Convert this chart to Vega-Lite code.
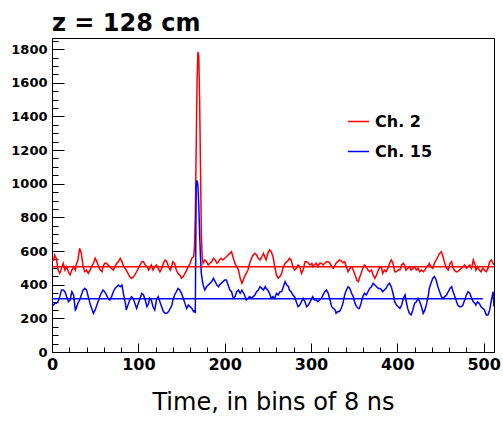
{
"$schema": "https://vega.github.io/schema/vega-lite/v6.json",
"autosize": "none",
"padding": {"left": 52, "top": 38, "right": 9, "bottom": 70},
"width": 442,
"height": 314,
"background": "white",
"title": {"text": "z = 128 cm", "anchor": "start", "frame": "group", "font": "DejaVu Sans", "fontSize": 24, "fontWeight": "bold", "color": "#000", "offset": 2},
"config": {
  "view": {"stroke": "#000", "strokeWidth": 1},
  "axis": {"domainColor": "#000", "tickColor": "#000", "labelColor": "#000", "grid": false, "labelFont": "DejaVu Sans", "labelFontWeight": "bold", "labelFontSize": 13, "domainWidth": 1, "tickWidth": 1}
},
"datasets": {
"base": [{"ch": "Ch. 2", "t0": 0, "t1": 512, "v": 507}, {"ch": "Ch. 15", "t0": 0, "t1": 499, "v": 317}],
"sig": [
{"ch":"Ch. 2","t":0,"v":540},{"ch":"Ch. 2","t":2,"v":547},{"ch":"Ch. 2","t":3,"v":576},{"ch":"Ch. 2","t":5,"v":557},{"ch":"Ch. 2","t":7,"v":487},{"ch":"Ch. 2","t":9,"v":467},{"ch":"Ch. 2","t":11,"v":497},{"ch":"Ch. 2","t":13,"v":527},{"ch":"Ch. 2","t":15,"v":487},{"ch":"Ch. 2","t":17,"v":507},{"ch":"Ch. 2","t":19,"v":477},{"ch":"Ch. 2","t":21,"v":458},{"ch":"Ch. 2","t":23,"v":487},{"ch":"Ch. 2","t":25,"v":507},{"ch":"Ch. 2","t":27,"v":487},{"ch":"Ch. 2","t":28,"v":517},{"ch":"Ch. 2","t":30,"v":547},{"ch":"Ch. 2","t":32,"v":616},{"ch":"Ch. 2","t":34,"v":586},{"ch":"Ch. 2","t":36,"v":507},{"ch":"Ch. 2","t":38,"v":477},{"ch":"Ch. 2","t":40,"v":487},{"ch":"Ch. 2","t":42,"v":467},{"ch":"Ch. 2","t":44,"v":487},{"ch":"Ch. 2","t":46,"v":507},{"ch":"Ch. 2","t":48,"v":527},{"ch":"Ch. 2","t":50,"v":557},{"ch":"Ch. 2","t":52,"v":537},{"ch":"Ch. 2","t":54,"v":507},{"ch":"Ch. 2","t":56,"v":487},{"ch":"Ch. 2","t":58,"v":477},{"ch":"Ch. 2","t":59,"v":507},{"ch":"Ch. 2","t":61,"v":527},{"ch":"Ch. 2","t":63,"v":527},{"ch":"Ch. 2","t":65,"v":517},{"ch":"Ch. 2","t":67,"v":507},{"ch":"Ch. 2","t":69,"v":497},{"ch":"Ch. 2","t":71,"v":487},{"ch":"Ch. 2","t":73,"v":507},{"ch":"Ch. 2","t":75,"v":527},{"ch":"Ch. 2","t":77,"v":537},{"ch":"Ch. 2","t":79,"v":557},{"ch":"Ch. 2","t":81,"v":537},{"ch":"Ch. 2","t":83,"v":507},{"ch":"Ch. 2","t":85,"v":497},{"ch":"Ch. 2","t":86,"v":487},{"ch":"Ch. 2","t":88,"v":467},{"ch":"Ch. 2","t":90,"v":448},{"ch":"Ch. 2","t":92,"v":438},{"ch":"Ch. 2","t":94,"v":444},{"ch":"Ch. 2","t":96,"v":458},{"ch":"Ch. 2","t":98,"v":477},{"ch":"Ch. 2","t":100,"v":497},{"ch":"Ch. 2","t":102,"v":517},{"ch":"Ch. 2","t":104,"v":537},{"ch":"Ch. 2","t":106,"v":537},{"ch":"Ch. 2","t":108,"v":517},{"ch":"Ch. 2","t":110,"v":507},{"ch":"Ch. 2","t":112,"v":487},{"ch":"Ch. 2","t":113,"v":497},{"ch":"Ch. 2","t":115,"v":517},{"ch":"Ch. 2","t":117,"v":487},{"ch":"Ch. 2","t":119,"v":507},{"ch":"Ch. 2","t":121,"v":517},{"ch":"Ch. 2","t":123,"v":497},{"ch":"Ch. 2","t":125,"v":477},{"ch":"Ch. 2","t":127,"v":497},{"ch":"Ch. 2","t":129,"v":527},{"ch":"Ch. 2","t":131,"v":547},{"ch":"Ch. 2","t":133,"v":537},{"ch":"Ch. 2","t":135,"v":507},{"ch":"Ch. 2","t":137,"v":487},{"ch":"Ch. 2","t":139,"v":517},{"ch":"Ch. 2","t":140,"v":537},{"ch":"Ch. 2","t":142,"v":527},{"ch":"Ch. 2","t":144,"v":487},{"ch":"Ch. 2","t":146,"v":467},{"ch":"Ch. 2","t":148,"v":458},{"ch":"Ch. 2","t":150,"v":438},{"ch":"Ch. 2","t":152,"v":448},{"ch":"Ch. 2","t":154,"v":467},{"ch":"Ch. 2","t":156,"v":487},{"ch":"Ch. 2","t":158,"v":507},{"ch":"Ch. 2","t":160,"v":527},{"ch":"Ch. 2","t":162,"v":557},{"ch":"Ch. 2","t":164,"v":566},{"ch":"Ch. 2","t":165,"v":620},{"ch":"Ch. 2","t":166,"v":800},{"ch":"Ch. 2","t":167,"v":1200},{"ch":"Ch. 2","t":168,"v":1600},{"ch":"Ch. 2","t":169,"v":1784},{"ch":"Ch. 2","t":170,"v":1760},{"ch":"Ch. 2","t":171,"v":1500},{"ch":"Ch. 2","t":172,"v":1100},{"ch":"Ch. 2","t":173,"v":700},{"ch":"Ch. 2","t":174,"v":560},{"ch":"Ch. 2","t":175,"v":527},{"ch":"Ch. 2","t":177,"v":547},{"ch":"Ch. 2","t":179,"v":537},{"ch":"Ch. 2","t":181,"v":517},{"ch":"Ch. 2","t":183,"v":527},{"ch":"Ch. 2","t":185,"v":537},{"ch":"Ch. 2","t":187,"v":557},{"ch":"Ch. 2","t":189,"v":547},{"ch":"Ch. 2","t":191,"v":527},{"ch":"Ch. 2","t":193,"v":537},{"ch":"Ch. 2","t":194,"v":547},{"ch":"Ch. 2","t":196,"v":557},{"ch":"Ch. 2","t":198,"v":547},{"ch":"Ch. 2","t":200,"v":557},{"ch":"Ch. 2","t":202,"v":566},{"ch":"Ch. 2","t":204,"v":576},{"ch":"Ch. 2","t":206,"v":586},{"ch":"Ch. 2","t":208,"v":596},{"ch":"Ch. 2","t":210,"v":557},{"ch":"Ch. 2","t":212,"v":527},{"ch":"Ch. 2","t":214,"v":507},{"ch":"Ch. 2","t":216,"v":487},{"ch":"Ch. 2","t":218,"v":438},{"ch":"Ch. 2","t":220,"v":408},{"ch":"Ch. 2","t":221,"v":418},{"ch":"Ch. 2","t":223,"v":448},{"ch":"Ch. 2","t":225,"v":467},{"ch":"Ch. 2","t":227,"v":487},{"ch":"Ch. 2","t":229,"v":527},{"ch":"Ch. 2","t":231,"v":557},{"ch":"Ch. 2","t":233,"v":576},{"ch":"Ch. 2","t":235,"v":586},{"ch":"Ch. 2","t":237,"v":576},{"ch":"Ch. 2","t":239,"v":557},{"ch":"Ch. 2","t":241,"v":547},{"ch":"Ch. 2","t":243,"v":566},{"ch":"Ch. 2","t":245,"v":586},{"ch":"Ch. 2","t":247,"v":557},{"ch":"Ch. 2","t":248,"v":547},{"ch":"Ch. 2","t":250,"v":586},{"ch":"Ch. 2","t":252,"v":606},{"ch":"Ch. 2","t":254,"v":596},{"ch":"Ch. 2","t":256,"v":566},{"ch":"Ch. 2","t":258,"v":507},{"ch":"Ch. 2","t":260,"v":458},{"ch":"Ch. 2","t":262,"v":438},{"ch":"Ch. 2","t":264,"v":448},{"ch":"Ch. 2","t":266,"v":467},{"ch":"Ch. 2","t":268,"v":507},{"ch":"Ch. 2","t":270,"v":527},{"ch":"Ch. 2","t":272,"v":537},{"ch":"Ch. 2","t":274,"v":547},{"ch":"Ch. 2","t":275,"v":557},{"ch":"Ch. 2","t":277,"v":547},{"ch":"Ch. 2","t":279,"v":507},{"ch":"Ch. 2","t":281,"v":487},{"ch":"Ch. 2","t":283,"v":497},{"ch":"Ch. 2","t":285,"v":517},{"ch":"Ch. 2","t":287,"v":507},{"ch":"Ch. 2","t":289,"v":467},{"ch":"Ch. 2","t":291,"v":487},{"ch":"Ch. 2","t":293,"v":537},{"ch":"Ch. 2","t":295,"v":537},{"ch":"Ch. 2","t":297,"v":527},{"ch":"Ch. 2","t":299,"v":517},{"ch":"Ch. 2","t":301,"v":527},{"ch":"Ch. 2","t":302,"v":507},{"ch":"Ch. 2","t":304,"v":517},{"ch":"Ch. 2","t":306,"v":527},{"ch":"Ch. 2","t":308,"v":507},{"ch":"Ch. 2","t":310,"v":527},{"ch":"Ch. 2","t":312,"v":527},{"ch":"Ch. 2","t":314,"v":517},{"ch":"Ch. 2","t":316,"v":527},{"ch":"Ch. 2","t":318,"v":537},{"ch":"Ch. 2","t":320,"v":537},{"ch":"Ch. 2","t":322,"v":527},{"ch":"Ch. 2","t":324,"v":507},{"ch":"Ch. 2","t":326,"v":497},{"ch":"Ch. 2","t":328,"v":517},{"ch":"Ch. 2","t":329,"v":527},{"ch":"Ch. 2","t":331,"v":537},{"ch":"Ch. 2","t":333,"v":547},{"ch":"Ch. 2","t":335,"v":542},{"ch":"Ch. 2","t":337,"v":530},{"ch":"Ch. 2","t":339,"v":537},{"ch":"Ch. 2","t":341,"v":507},{"ch":"Ch. 2","t":343,"v":477},{"ch":"Ch. 2","t":345,"v":497},{"ch":"Ch. 2","t":347,"v":507},{"ch":"Ch. 2","t":349,"v":487},{"ch":"Ch. 2","t":351,"v":458},{"ch":"Ch. 2","t":353,"v":428},{"ch":"Ch. 2","t":355,"v":418},{"ch":"Ch. 2","t":356,"v":438},{"ch":"Ch. 2","t":358,"v":467},{"ch":"Ch. 2","t":360,"v":497},{"ch":"Ch. 2","t":362,"v":517},{"ch":"Ch. 2","t":364,"v":507},{"ch":"Ch. 2","t":366,"v":487},{"ch":"Ch. 2","t":368,"v":477},{"ch":"Ch. 2","t":370,"v":487},{"ch":"Ch. 2","t":372,"v":458},{"ch":"Ch. 2","t":374,"v":438},{"ch":"Ch. 2","t":376,"v":458},{"ch":"Ch. 2","t":378,"v":487},{"ch":"Ch. 2","t":380,"v":507},{"ch":"Ch. 2","t":382,"v":497},{"ch":"Ch. 2","t":383,"v":467},{"ch":"Ch. 2","t":385,"v":487},{"ch":"Ch. 2","t":387,"v":477},{"ch":"Ch. 2","t":389,"v":497},{"ch":"Ch. 2","t":391,"v":527},{"ch":"Ch. 2","t":393,"v":547},{"ch":"Ch. 2","t":395,"v":527},{"ch":"Ch. 2","t":397,"v":477},{"ch":"Ch. 2","t":399,"v":477},{"ch":"Ch. 2","t":401,"v":487},{"ch":"Ch. 2","t":403,"v":487},{"ch":"Ch. 2","t":405,"v":517},{"ch":"Ch. 2","t":407,"v":527},{"ch":"Ch. 2","t":409,"v":507},{"ch":"Ch. 2","t":410,"v":487},{"ch":"Ch. 2","t":412,"v":497},{"ch":"Ch. 2","t":414,"v":507},{"ch":"Ch. 2","t":416,"v":487},{"ch":"Ch. 2","t":418,"v":497},{"ch":"Ch. 2","t":420,"v":507},{"ch":"Ch. 2","t":422,"v":487},{"ch":"Ch. 2","t":424,"v":497},{"ch":"Ch. 2","t":426,"v":477},{"ch":"Ch. 2","t":428,"v":487},{"ch":"Ch. 2","t":430,"v":477},{"ch":"Ch. 2","t":432,"v":487},{"ch":"Ch. 2","t":434,"v":507},{"ch":"Ch. 2","t":436,"v":517},{"ch":"Ch. 2","t":437,"v":527},{"ch":"Ch. 2","t":439,"v":507},{"ch":"Ch. 2","t":441,"v":497},{"ch":"Ch. 2","t":443,"v":527},{"ch":"Ch. 2","t":445,"v":547},{"ch":"Ch. 2","t":447,"v":566},{"ch":"Ch. 2","t":449,"v":586},{"ch":"Ch. 2","t":451,"v":596},{"ch":"Ch. 2","t":453,"v":566},{"ch":"Ch. 2","t":455,"v":527},{"ch":"Ch. 2","t":457,"v":497},{"ch":"Ch. 2","t":459,"v":487},{"ch":"Ch. 2","t":461,"v":527},{"ch":"Ch. 2","t":463,"v":537},{"ch":"Ch. 2","t":464,"v":507},{"ch":"Ch. 2","t":466,"v":487},{"ch":"Ch. 2","t":468,"v":477},{"ch":"Ch. 2","t":470,"v":477},{"ch":"Ch. 2","t":472,"v":487},{"ch":"Ch. 2","t":474,"v":497},{"ch":"Ch. 2","t":476,"v":507},{"ch":"Ch. 2","t":478,"v":517},{"ch":"Ch. 2","t":480,"v":497},{"ch":"Ch. 2","t":482,"v":507},{"ch":"Ch. 2","t":484,"v":517},{"ch":"Ch. 2","t":486,"v":497},{"ch":"Ch. 2","t":488,"v":547},{"ch":"Ch. 2","t":490,"v":517},{"ch":"Ch. 2","t":491,"v":487},{"ch":"Ch. 2","t":493,"v":507},{"ch":"Ch. 2","t":495,"v":487},{"ch":"Ch. 2","t":497,"v":477},{"ch":"Ch. 2","t":499,"v":497},{"ch":"Ch. 2","t":501,"v":487},{"ch":"Ch. 2","t":503,"v":477},{"ch":"Ch. 2","t":505,"v":497},{"ch":"Ch. 2","t":507,"v":537},{"ch":"Ch. 2","t":509,"v":547},{"ch":"Ch. 2","t":511,"v":527},{"ch":"Ch. 2","t":512,"v":517},
{"ch":"Ch. 15","t":0,"v":285},{"ch":"Ch. 15","t":2,"v":279},{"ch":"Ch. 15","t":3,"v":289},{"ch":"Ch. 15","t":5,"v":289},{"ch":"Ch. 15","t":7,"v":299},{"ch":"Ch. 15","t":9,"v":329},{"ch":"Ch. 15","t":11,"v":368},{"ch":"Ch. 15","t":13,"v":368},{"ch":"Ch. 15","t":15,"v":358},{"ch":"Ch. 15","t":17,"v":329},{"ch":"Ch. 15","t":19,"v":299},{"ch":"Ch. 15","t":21,"v":309},{"ch":"Ch. 15","t":23,"v":358},{"ch":"Ch. 15","t":25,"v":339},{"ch":"Ch. 15","t":27,"v":250},{"ch":"Ch. 15","t":28,"v":259},{"ch":"Ch. 15","t":30,"v":289},{"ch":"Ch. 15","t":32,"v":309},{"ch":"Ch. 15","t":34,"v":339},{"ch":"Ch. 15","t":36,"v":368},{"ch":"Ch. 15","t":38,"v":378},{"ch":"Ch. 15","t":40,"v":368},{"ch":"Ch. 15","t":42,"v":329},{"ch":"Ch. 15","t":44,"v":289},{"ch":"Ch. 15","t":46,"v":259},{"ch":"Ch. 15","t":48,"v":230},{"ch":"Ch. 15","t":50,"v":250},{"ch":"Ch. 15","t":52,"v":279},{"ch":"Ch. 15","t":54,"v":309},{"ch":"Ch. 15","t":56,"v":339},{"ch":"Ch. 15","t":58,"v":358},{"ch":"Ch. 15","t":59,"v":368},{"ch":"Ch. 15","t":61,"v":358},{"ch":"Ch. 15","t":63,"v":339},{"ch":"Ch. 15","t":65,"v":319},{"ch":"Ch. 15","t":67,"v":309},{"ch":"Ch. 15","t":69,"v":329},{"ch":"Ch. 15","t":71,"v":358},{"ch":"Ch. 15","t":73,"v":378},{"ch":"Ch. 15","t":75,"v":388},{"ch":"Ch. 15","t":77,"v":398},{"ch":"Ch. 15","t":79,"v":388},{"ch":"Ch. 15","t":81,"v":398},{"ch":"Ch. 15","t":83,"v":339},{"ch":"Ch. 15","t":85,"v":289},{"ch":"Ch. 15","t":86,"v":250},{"ch":"Ch. 15","t":88,"v":279},{"ch":"Ch. 15","t":90,"v":309},{"ch":"Ch. 15","t":92,"v":329},{"ch":"Ch. 15","t":94,"v":319},{"ch":"Ch. 15","t":96,"v":289},{"ch":"Ch. 15","t":98,"v":259},{"ch":"Ch. 15","t":100,"v":289},{"ch":"Ch. 15","t":102,"v":319},{"ch":"Ch. 15","t":104,"v":349},{"ch":"Ch. 15","t":106,"v":339},{"ch":"Ch. 15","t":108,"v":309},{"ch":"Ch. 15","t":110,"v":269},{"ch":"Ch. 15","t":112,"v":289},{"ch":"Ch. 15","t":113,"v":319},{"ch":"Ch. 15","t":115,"v":309},{"ch":"Ch. 15","t":117,"v":269},{"ch":"Ch. 15","t":119,"v":250},{"ch":"Ch. 15","t":121,"v":309},{"ch":"Ch. 15","t":123,"v":329},{"ch":"Ch. 15","t":125,"v":299},{"ch":"Ch. 15","t":127,"v":269},{"ch":"Ch. 15","t":129,"v":240},{"ch":"Ch. 15","t":131,"v":230},{"ch":"Ch. 15","t":133,"v":230},{"ch":"Ch. 15","t":135,"v":240},{"ch":"Ch. 15","t":137,"v":259},{"ch":"Ch. 15","t":139,"v":279},{"ch":"Ch. 15","t":140,"v":309},{"ch":"Ch. 15","t":142,"v":339},{"ch":"Ch. 15","t":144,"v":358},{"ch":"Ch. 15","t":146,"v":378},{"ch":"Ch. 15","t":148,"v":368},{"ch":"Ch. 15","t":150,"v":349},{"ch":"Ch. 15","t":152,"v":319},{"ch":"Ch. 15","t":154,"v":289},{"ch":"Ch. 15","t":156,"v":259},{"ch":"Ch. 15","t":158,"v":279},{"ch":"Ch. 15","t":160,"v":269},{"ch":"Ch. 15","t":162,"v":259},{"ch":"Ch. 15","t":164,"v":240},{"ch":"Ch. 15","t":165,"v":245},{"ch":"Ch. 15","t":166,"v":232},{"ch":"Ch. 15","t":167,"v":980},{"ch":"Ch. 15","t":168,"v":1020},{"ch":"Ch. 15","t":169,"v":990},{"ch":"Ch. 15","t":170,"v":880},{"ch":"Ch. 15","t":171,"v":700},{"ch":"Ch. 15","t":172,"v":566},{"ch":"Ch. 15","t":173,"v":467},{"ch":"Ch. 15","t":174,"v":430},{"ch":"Ch. 15","t":175,"v":400},{"ch":"Ch. 15","t":177,"v":368},{"ch":"Ch. 15","t":179,"v":388},{"ch":"Ch. 15","t":181,"v":398},{"ch":"Ch. 15","t":183,"v":408},{"ch":"Ch. 15","t":185,"v":418},{"ch":"Ch. 15","t":187,"v":438},{"ch":"Ch. 15","t":189,"v":418},{"ch":"Ch. 15","t":191,"v":398},{"ch":"Ch. 15","t":193,"v":388},{"ch":"Ch. 15","t":194,"v":398},{"ch":"Ch. 15","t":196,"v":408},{"ch":"Ch. 15","t":198,"v":418},{"ch":"Ch. 15","t":200,"v":428},{"ch":"Ch. 15","t":202,"v":428},{"ch":"Ch. 15","t":204,"v":398},{"ch":"Ch. 15","t":206,"v":368},{"ch":"Ch. 15","t":208,"v":358},{"ch":"Ch. 15","t":210,"v":319},{"ch":"Ch. 15","t":212,"v":329},{"ch":"Ch. 15","t":214,"v":358},{"ch":"Ch. 15","t":216,"v":368},{"ch":"Ch. 15","t":218,"v":349},{"ch":"Ch. 15","t":220,"v":368},{"ch":"Ch. 15","t":221,"v":358},{"ch":"Ch. 15","t":223,"v":339},{"ch":"Ch. 15","t":225,"v":309},{"ch":"Ch. 15","t":227,"v":319},{"ch":"Ch. 15","t":229,"v":329},{"ch":"Ch. 15","t":231,"v":319},{"ch":"Ch. 15","t":233,"v":329},{"ch":"Ch. 15","t":235,"v":339},{"ch":"Ch. 15","t":237,"v":358},{"ch":"Ch. 15","t":239,"v":368},{"ch":"Ch. 15","t":241,"v":388},{"ch":"Ch. 15","t":243,"v":378},{"ch":"Ch. 15","t":245,"v":368},{"ch":"Ch. 15","t":247,"v":388},{"ch":"Ch. 15","t":248,"v":378},{"ch":"Ch. 15","t":250,"v":368},{"ch":"Ch. 15","t":252,"v":349},{"ch":"Ch. 15","t":254,"v":319},{"ch":"Ch. 15","t":256,"v":329},{"ch":"Ch. 15","t":258,"v":319},{"ch":"Ch. 15","t":260,"v":349},{"ch":"Ch. 15","t":262,"v":339},{"ch":"Ch. 15","t":264,"v":358},{"ch":"Ch. 15","t":266,"v":358},{"ch":"Ch. 15","t":268,"v":388},{"ch":"Ch. 15","t":270,"v":418},{"ch":"Ch. 15","t":272,"v":398},{"ch":"Ch. 15","t":274,"v":388},{"ch":"Ch. 15","t":275,"v":368},{"ch":"Ch. 15","t":277,"v":358},{"ch":"Ch. 15","t":279,"v":339},{"ch":"Ch. 15","t":281,"v":329},{"ch":"Ch. 15","t":283,"v":299},{"ch":"Ch. 15","t":285,"v":269},{"ch":"Ch. 15","t":287,"v":279},{"ch":"Ch. 15","t":289,"v":299},{"ch":"Ch. 15","t":291,"v":319},{"ch":"Ch. 15","t":293,"v":299},{"ch":"Ch. 15","t":295,"v":269},{"ch":"Ch. 15","t":297,"v":279},{"ch":"Ch. 15","t":299,"v":299},{"ch":"Ch. 15","t":301,"v":319},{"ch":"Ch. 15","t":302,"v":329},{"ch":"Ch. 15","t":304,"v":309},{"ch":"Ch. 15","t":306,"v":309},{"ch":"Ch. 15","t":308,"v":299},{"ch":"Ch. 15","t":310,"v":309},{"ch":"Ch. 15","t":312,"v":319},{"ch":"Ch. 15","t":314,"v":339},{"ch":"Ch. 15","t":316,"v":358},{"ch":"Ch. 15","t":318,"v":368},{"ch":"Ch. 15","t":320,"v":349},{"ch":"Ch. 15","t":322,"v":309},{"ch":"Ch. 15","t":324,"v":269},{"ch":"Ch. 15","t":326,"v":259},{"ch":"Ch. 15","t":328,"v":250},{"ch":"Ch. 15","t":329,"v":230},{"ch":"Ch. 15","t":331,"v":240},{"ch":"Ch. 15","t":333,"v":240},{"ch":"Ch. 15","t":335,"v":259},{"ch":"Ch. 15","t":337,"v":289},{"ch":"Ch. 15","t":339,"v":339},{"ch":"Ch. 15","t":341,"v":368},{"ch":"Ch. 15","t":343,"v":388},{"ch":"Ch. 15","t":345,"v":378},{"ch":"Ch. 15","t":347,"v":349},{"ch":"Ch. 15","t":349,"v":329},{"ch":"Ch. 15","t":351,"v":289},{"ch":"Ch. 15","t":353,"v":269},{"ch":"Ch. 15","t":355,"v":259},{"ch":"Ch. 15","t":356,"v":259},{"ch":"Ch. 15","t":358,"v":289},{"ch":"Ch. 15","t":360,"v":329},{"ch":"Ch. 15","t":362,"v":349},{"ch":"Ch. 15","t":364,"v":339},{"ch":"Ch. 15","t":366,"v":358},{"ch":"Ch. 15","t":368,"v":378},{"ch":"Ch. 15","t":370,"v":388},{"ch":"Ch. 15","t":372,"v":408},{"ch":"Ch. 15","t":374,"v":398},{"ch":"Ch. 15","t":376,"v":388},{"ch":"Ch. 15","t":378,"v":378},{"ch":"Ch. 15","t":380,"v":378},{"ch":"Ch. 15","t":382,"v":368},{"ch":"Ch. 15","t":383,"v":358},{"ch":"Ch. 15","t":385,"v":368},{"ch":"Ch. 15","t":387,"v":378},{"ch":"Ch. 15","t":389,"v":398},{"ch":"Ch. 15","t":391,"v":408},{"ch":"Ch. 15","t":393,"v":388},{"ch":"Ch. 15","t":395,"v":349},{"ch":"Ch. 15","t":397,"v":299},{"ch":"Ch. 15","t":399,"v":279},{"ch":"Ch. 15","t":401,"v":269},{"ch":"Ch. 15","t":403,"v":259},{"ch":"Ch. 15","t":405,"v":279},{"ch":"Ch. 15","t":407,"v":319},{"ch":"Ch. 15","t":409,"v":339},{"ch":"Ch. 15","t":410,"v":309},{"ch":"Ch. 15","t":412,"v":259},{"ch":"Ch. 15","t":414,"v":230},{"ch":"Ch. 15","t":416,"v":220},{"ch":"Ch. 15","t":418,"v":250},{"ch":"Ch. 15","t":420,"v":289},{"ch":"Ch. 15","t":422,"v":299},{"ch":"Ch. 15","t":424,"v":319},{"ch":"Ch. 15","t":426,"v":299},{"ch":"Ch. 15","t":428,"v":269},{"ch":"Ch. 15","t":430,"v":230},{"ch":"Ch. 15","t":432,"v":250},{"ch":"Ch. 15","t":434,"v":289},{"ch":"Ch. 15","t":436,"v":339},{"ch":"Ch. 15","t":437,"v":378},{"ch":"Ch. 15","t":439,"v":408},{"ch":"Ch. 15","t":441,"v":438},{"ch":"Ch. 15","t":443,"v":448},{"ch":"Ch. 15","t":445,"v":428},{"ch":"Ch. 15","t":447,"v":388},{"ch":"Ch. 15","t":449,"v":358},{"ch":"Ch. 15","t":451,"v":329},{"ch":"Ch. 15","t":453,"v":319},{"ch":"Ch. 15","t":455,"v":329},{"ch":"Ch. 15","t":457,"v":339},{"ch":"Ch. 15","t":459,"v":358},{"ch":"Ch. 15","t":461,"v":378},{"ch":"Ch. 15","t":463,"v":388},{"ch":"Ch. 15","t":464,"v":368},{"ch":"Ch. 15","t":466,"v":339},{"ch":"Ch. 15","t":468,"v":309},{"ch":"Ch. 15","t":470,"v":279},{"ch":"Ch. 15","t":472,"v":269},{"ch":"Ch. 15","t":474,"v":269},{"ch":"Ch. 15","t":476,"v":279},{"ch":"Ch. 15","t":478,"v":309},{"ch":"Ch. 15","t":480,"v":339},{"ch":"Ch. 15","t":482,"v":358},{"ch":"Ch. 15","t":484,"v":349},{"ch":"Ch. 15","t":486,"v":319},{"ch":"Ch. 15","t":488,"v":299},{"ch":"Ch. 15","t":490,"v":289},{"ch":"Ch. 15","t":491,"v":279},{"ch":"Ch. 15","t":493,"v":299},{"ch":"Ch. 15","t":495,"v":289},{"ch":"Ch. 15","t":497,"v":269},{"ch":"Ch. 15","t":499,"v":259},{"ch":"Ch. 15","t":501,"v":250},{"ch":"Ch. 15","t":503,"v":220},{"ch":"Ch. 15","t":505,"v":220},{"ch":"Ch. 15","t":507,"v":250},{"ch":"Ch. 15","t":509,"v":309},{"ch":"Ch. 15","t":511,"v":358},{"ch":"Ch. 15","t":512,"v":269}
]
},
"layer": [
  {
    "data": {"name": "sig"},
    "mark": {"type": "line", "strokeWidth": 1.5, "clip": true},
    "encoding": {
      "x": {"field": "t", "type": "quantitative", "scale": {"domain": [0, 512], "nice": false, "zero": false},
        "axis": {"orient": "bottom", "values": [0, 100, 200, 300, 400, 500], "tickSize": -9, "labelPadding": 13, "labelFontSize": 16, "labelFlush": false, "format": "d", "title": "Time, in bins of 8 ns", "titleFont": "DejaVu Sans", "titleFontSize": 24, "titleFontWeight": "normal", "titleColor": "#000", "titlePadding": 18}},
      "y": {"field": "v", "type": "quantitative", "scale": {"domain": [0, 1866], "nice": false},
        "axis": {"orient": "left", "values": [0, 200, 400, 600, 800, 1000, 1200, 1400, 1600, 1800], "tickSize": -12, "labelPadding": 17, "labelFontSize": 13, "labelFlush": false, "format": "d", "title": null}},
      "color": {"field": "ch", "type": "nominal", "scale": {"domain": ["Ch. 2", "Ch. 15"], "range": ["#ff0000", "#0000ff"]},
        "legend": {"orient": "none", "legendX": 295, "legendY": 72, "title": null, "symbolType": "stroke", "symbolSize": 441, "symbolStrokeWidth": 1.5, "labelFont": "DejaVu Sans", "labelFontWeight": "bold", "labelFontSize": 16, "labelColor": "#000", "labelOffset": 5, "rowPadding": 10, "padding": 0}}
    }
  },
  {
    "data": {"name": "base"},
    "mark": {"type": "rule", "strokeWidth": 1.5},
    "encoding": {
      "x": {"field": "t0", "type": "quantitative",
        "axis": {"orient": "bottom", "values": [20, 40, 60, 80, 120, 140, 160, 180, 220, 240, 260, 280, 320, 340, 360, 380, 420, 440, 460, 480], "tickSize": -5, "labels": false, "domain": false, "title": null}},
      "x2": {"field": "t1"},
      "y": {"field": "v", "type": "quantitative",
        "axis": {"orient": "left", "values": [50, 100, 150, 250, 300, 350, 450, 500, 550, 650, 700, 750, 850, 900, 950, 1050, 1100, 1150, 1250, 1300, 1350, 1450, 1500, 1550, 1650, 1700, 1750, 1850], "tickSize": -6, "labels": false, "domain": false, "title": null}},
      "color": {"field": "ch", "type": "nominal", "legend": null}
    }
  }
],
"resolve": {"axis": {"x": "independent", "y": "independent"}}
}
